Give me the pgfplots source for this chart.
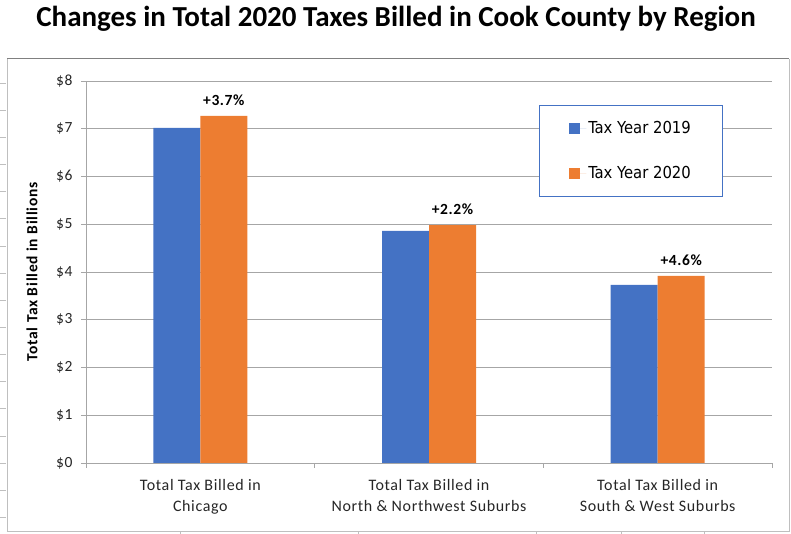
\documentclass[border=0pt]{standalone}
\usepackage{fontspec}
\setmainfont{Carlito}
\newfontfamily\legfont{DejaVu Sans Condensed}
\newfontfamily\widefont[LetterSpace=4]{Carlito}
\usepackage{pgfplots}
\pgfplotsset{compat=1.18}
\definecolor{taxblue}{HTML}{4472C4}
\definecolor{taxorange}{HTML}{ED7D31}
\definecolor{gridgray}{HTML}{A6A6A6}
\definecolor{legblue}{HTML}{4472C4}
\definecolor{framegray}{HTML}{BFBFBF}

\begin{document}
\begin{tikzpicture}[x=1pt,y=1pt]
\useasboundingbox (0,0) rectangle (791,534);
% outer frame of the chart area
\draw[framegray, line width=1pt] (7,475) -- (7,2) -- (789,2) -- (789,475);
\draw[gray, line width=1pt] (7,475) -- (789,475);
\foreach \k in {0,...,16} {\draw[framegray] (0,{451-27.14*\k}) -- (6,{451-27.14*\k});}
\foreach \xx in {180,358,536,621,704} {\draw[framegray] (\xx,2) -- (\xx,0);}
\node[font=\bfseries\fontsize{29}{32}\selectfont] at (396,515) {Changes in Total 2020 Taxes Billed in Cook County by Region};
\begin{axis}[
    at={(86pt,71pt)}, anchor=south west,
    scale only axis, width=686pt, height=382pt,
    ybar=0pt, bar width=47pt,
    xmin=-0.5, xmax=2.5, ymin=0, ymax=8,
    axis x line=bottom, axis y line=left,
    axis line style={-, gridgray, line width=0.9pt},
    ytick={0,1,...,8},
    yticklabel={\$\pgfmathprintnumber[assume math mode=true]{\tick}},
    yticklabel style={font=\widefont\fontsize{15.5}{17}\selectfont, text=black!85, xshift=-5pt},
    y tick style={gridgray, line width=0.9pt},
    tick align=outside, major tick length=5pt,
    ymajorgrids, grid style={gridgray, line width=0.9pt},
    xtick={0,1,2},
    x tick style={draw=none},
    xticklabels={{Total Tax Billed in\\Chicago},{Total Tax Billed in\\North \& Northwest Suburbs},{Total Tax Billed in\\South \& West Suburbs}},
    xticklabel style={align=center, font=\widefont\fontsize{16}{21}\selectfont, text=black!85, yshift=-8pt},
    extra x ticks={-0.5,0.5,1.5,2.5},
    extra x tick labels={},
    extra x tick style={x tick style={draw=gridgray, line width=0.9pt}, grid=none},
    ylabel={Total Tax Billed in Billions},
    ylabel style={at={(axis description cs:-0.0787,0.5)}, anchor=center,
        font=\bfseries\addfontfeatures{LetterSpace=5}\fontsize{15.5}{17}\selectfont},
    legend style={at={(axis description cs:0.660,0.937)}, anchor=north west,
        draw=legblue, line width=1pt, inner xsep=30pt, inner ysep=14pt,
        font=\legfont\fontsize{16.5}{19}\selectfont, row sep=27pt, legend cell align=left},
    legend image code/.code={\fill[#1,draw=none] (0pt,-5.5pt) rectangle (11pt,5.5pt);
        \path (0pt,0pt) -- (17pt,0pt);},
]
\addplot[fill=taxblue, draw=none] coordinates {(0,7.02) (1,4.86) (2,3.73)};
\addplot[fill=taxorange, draw=none,
    nodes near coords, point meta=explicit symbolic,
    nodes near coords style={font=\bfseries\addfontfeatures{LetterSpace=4}\fontsize{15.5}{17}\selectfont,
        anchor=south, yshift=7pt}]
    coordinates {(0,7.27) [+3.7\%] (1,4.98) [+2.2\%] (2,3.92) [+4.6\%]};
\legend{Tax Year 2019, Tax Year 2020}
\end{axis}
\end{tikzpicture}
\end{document}
